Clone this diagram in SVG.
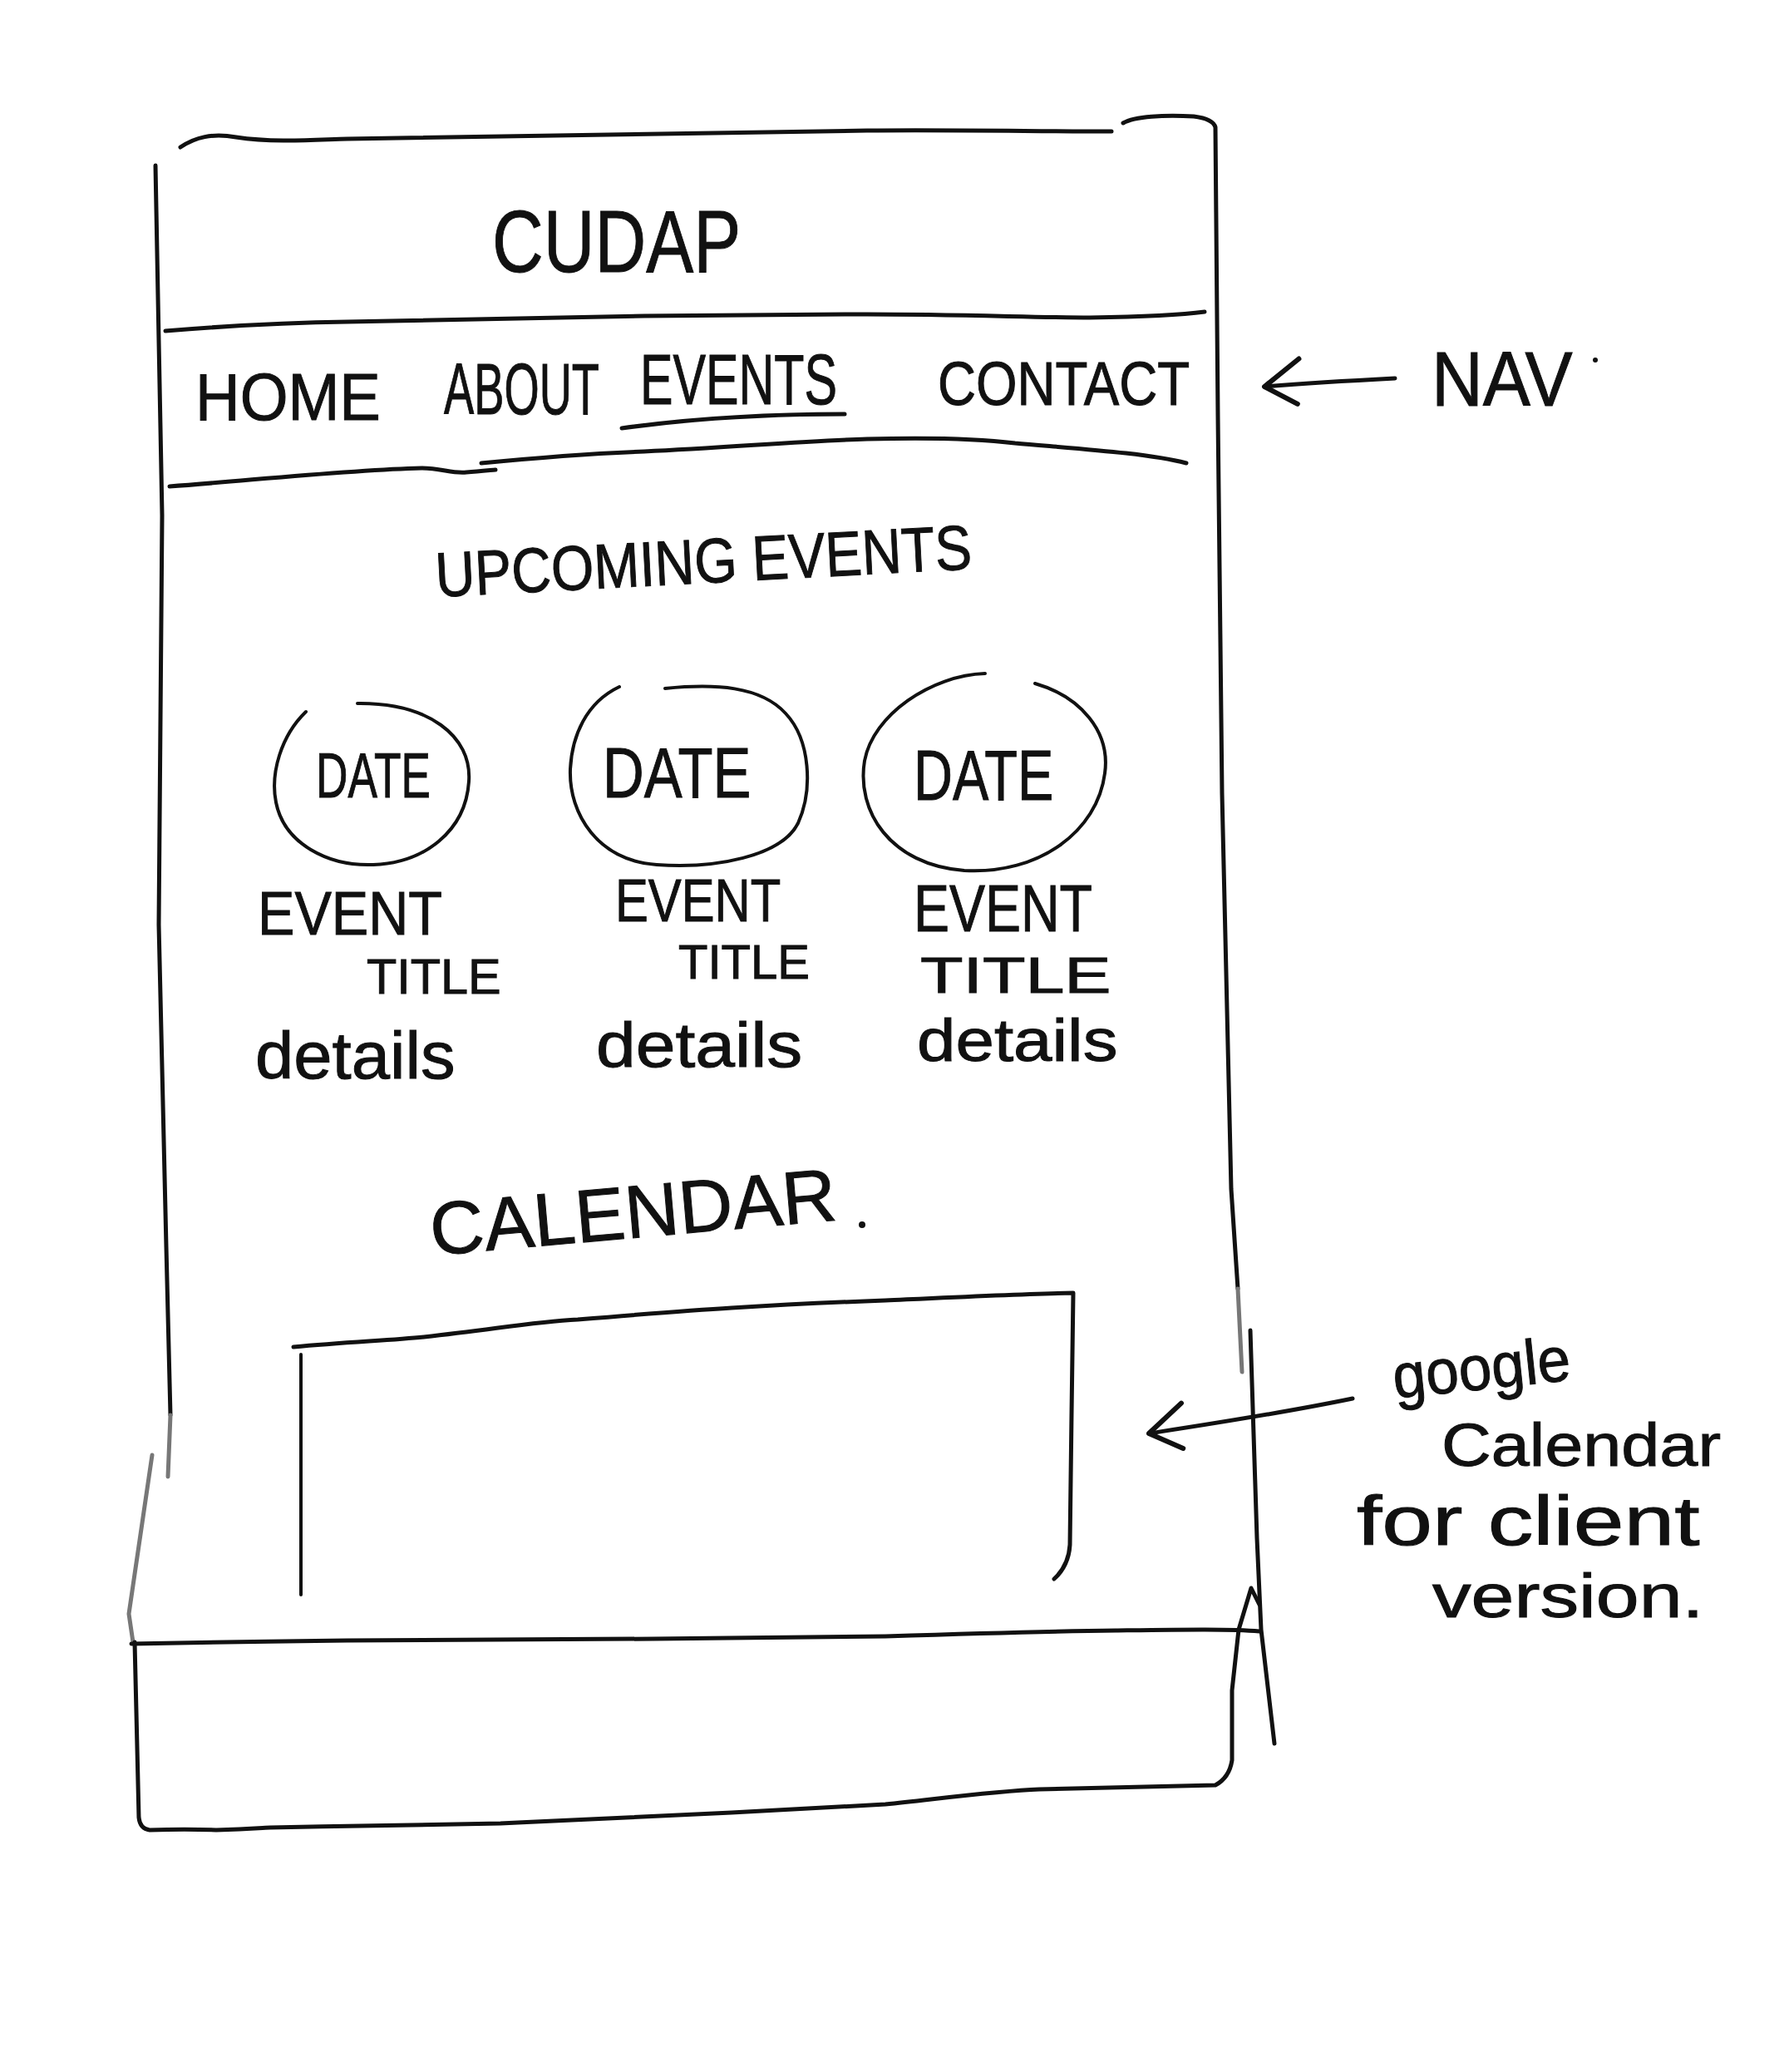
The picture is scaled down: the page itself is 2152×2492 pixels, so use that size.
<svg xmlns="http://www.w3.org/2000/svg" width="2152" height="2492" viewBox="0 0 2152 2492">
<style>
.ln{fill:none;stroke:#111;stroke-width:5;stroke-linecap:round;stroke-linejoin:round}
.thin{fill:none;stroke:#111;stroke-width:4;stroke-linecap:round;stroke-linejoin:round}
.gray{fill:none;stroke:#777;stroke-width:5;stroke-linecap:round}
.t{font-family:"Liberation Sans","DejaVu Sans",Arial,sans-serif;fill:#111;stroke:#111;stroke-width:1}
</style>
<defs>
<marker id="chev" markerUnits="userSpaceOnUse" viewBox="-60 -40 70 80" markerWidth="70" markerHeight="80" refX="0" refY="0" orient="auto">
<path d="M-38,-24 L0,0 L-44,30" fill="none" stroke="#111" stroke-width="6" stroke-linecap="round" stroke-linejoin="round"/>
</marker>
</defs>
<rect width="2152" height="2492" fill="#fff"/>

<g id="page-frame">
<path class="ln" d="M217,177 C235,165 255,160 284,165 C330,172 380,168 418,167 C600,163 800,160 1043,157 C1150,156 1250,158 1337,158"/>
<path class="ln" d="M1351,148 C1365,140 1400,138 1436,140 C1452,142 1460,146 1462,153 L1465,500 L1470,954 L1481,1430 L1489,1550"/>
<path class="gray" d="M1489,1550 L1494,1650"/>
<path class="ln" d="M1504,1600 L1512,1850 L1517,1960 L1533,2097"/>
<path class="ln" d="M187,199 L195,620 L191,1112 L200,1500 L205,1702"/>
<path class="gray" d="M205,1702 L202,1776 M183,1750 L155,1941 L160,1975"/>
</g>

<g id="header">
<text class="t" font-size="105" transform="translate(592,327) scale(0.814,1)">CUDAP</text>
<path class="ln" d="M199,398 C260,393 330,388 418,387 C560,384 680,381 775,380 C880,379 960,378 1043,378 C1150,378 1250,382 1311,382 C1380,381 1420,379 1449,375"/>
</g>

<g id="nav">
<text class="t" font-size="80" transform="translate(235,505) scale(0.929,1)">HOME</text>
<text class="t" font-size="88" transform="translate(534,498) scale(0.617,1)">ABOUT</text>
<text class="t" font-size="86" transform="translate(770,486) scale(0.689,1)">EVENTS</text>
<path class="ln" d="M748,515 C820,505 900,498 1016,498" stroke-width="6"/>
<text class="t" font-size="74" transform="translate(1128,487) scale(0.861,1)">CONTACT</text>
<path class="ln" d="M204,585 C300,578 420,565 507,563 C530,563 545,570 561,568 C575,567 585,566 596,565"/>
<path class="ln" d="M579,557 C650,550 720,545 775,543 C880,538 970,530 1043,528 C1120,526 1180,528 1221,533 C1300,540 1380,545 1427,557"/>
</g>

<g id="upcoming-events">
<text class="t" font-size="76" transform="rotate(-3 525 718) translate(525,718) scale(0.869,1)">UPCOMING EVENTS</text>
</g>

<g id="event-1">
<path class="thin" d="M368,856 C338,885 325,930 332,965 C342,1015 395,1042 449,1040 C510,1038 560,1000 564,940 C568,885 515,845 430,846"/>
<text class="t" font-size="76" transform="translate(380,959) scale(0.70,1)">DATE</text>
<text class="t" font-size="74" transform="translate(310,1124) scale(0.90,1)">EVENT</text>
<text class="t" font-size="60" transform="translate(441,1195) scale(0.99,1)">TITLE</text>
<text class="t" font-size="80" transform="translate(307,1297) scale(1.04,1)">details</text>
</g>

<g id="event-2">
<path class="thin" d="M745,826 C705,845 688,885 686,925 C684,980 720,1035 790,1040 C860,1045 940,1030 960,990 C978,950 975,890 945,858 C915,825 860,822 800,828"/>
<text class="t" font-size="86" transform="translate(725,959) scale(0.80,1)">DATE</text>
<text class="t" font-size="72" transform="translate(740,1108) scale(0.83,1)">EVENT</text>
<text class="t" font-size="58" transform="translate(816,1177) scale(1.0,1)">TITLE</text>
<text class="t" font-size="76" transform="translate(717,1283) scale(1.13,1)">details</text>
</g>

<g id="event-3">
<path class="thin" d="M1185,810 C1120,812 1050,860 1040,915 C1030,975 1070,1040 1160,1047 C1250,1052 1320,1000 1329,930 C1336,880 1300,838 1245,822"/>
<text class="t" font-size="86" transform="translate(1099,962) scale(0.755,1)">DATE</text>
<text class="t" font-size="80" transform="translate(1099,1120) scale(0.806,1)">EVENT</text>
<text class="t" font-size="62" transform="translate(1107,1194) scale(1.36,1)">TITLE</text>
<text class="t" font-size="72" transform="translate(1103,1276) scale(1.16,1)">details</text>
</g>

<g id="calendar">
<text class="t" font-size="90" transform="rotate(-5 520 1510) translate(520,1510)">CALENDAR</text>
<circle cx="1037" cy="1473" r="4" fill="#111"/>
<path class="ln" d="M353,1620 C420,1614 470,1612 510,1608 C600,1598 640,1590 695,1587 C780,1580 830,1576 880,1573 C960,1568 1010,1566 1065,1564 C1150,1560 1230,1556 1291,1555 L1289,1700 L1287,1858 C1286,1875 1280,1888 1268,1899"/>
<path class="thin" d="M362,1629 L362,1918"/>
</g>

<g id="footer">
<path class="ln" d="M158,1977 C250,1975 330,1974 417,1973 C550,1972 680,1972 787,1971 C880,1970 980,1969 1065,1968 C1160,1965 1260,1962 1342,1961 C1420,1960 1480,1959 1515,1962"/>
<path class="ln" d="M162,1975 L167,2186 C168,2195 172,2200 180,2201 C210,2200 235,2200 260,2201 C300,2200 320,2198 325,2198 C420,2196 520,2195 602,2193 C700,2188 800,2184 880,2180 C950,2176 1010,2173 1065,2170 C1140,2162 1200,2154 1250,2152 C1330,2150 1400,2149 1462,2147 C1475,2140 1480,2130 1482,2117 L1482,2033 L1490,1960 L1505,1910 L1515,1930"/>
</g>

<g id="annotations">
<text class="t" font-size="92" transform="translate(1722,488) scale(0.931,1)">NAV</text>
<circle cx="1919" cy="433" r="3" fill="#111"/>
<text class="t" font-size="76" transform="rotate(-6 1678 1682) translate(1678,1682) scale(0.94,1)">google</text>
<text class="t" font-size="72" transform="translate(1734,1763) scale(1.15,1)">Calendar</text>
<text class="t" font-size="84" transform="translate(1632,1858) scale(1.30,1)">for client</text>
<text class="t" font-size="74" transform="translate(1723,1945) scale(1.26,1)">version.</text>
</g>

<g id="connectors">
<path class="ln" stroke-width="6" d="M1678,455 C1620,458 1570,461 1521,465" marker-end="url(#chev)"/>
<path class="ln" stroke-width="5" d="M1627,1682 C1540,1700 1460,1712 1382,1724" marker-end="url(#chev)"/>
</g>
</svg>
